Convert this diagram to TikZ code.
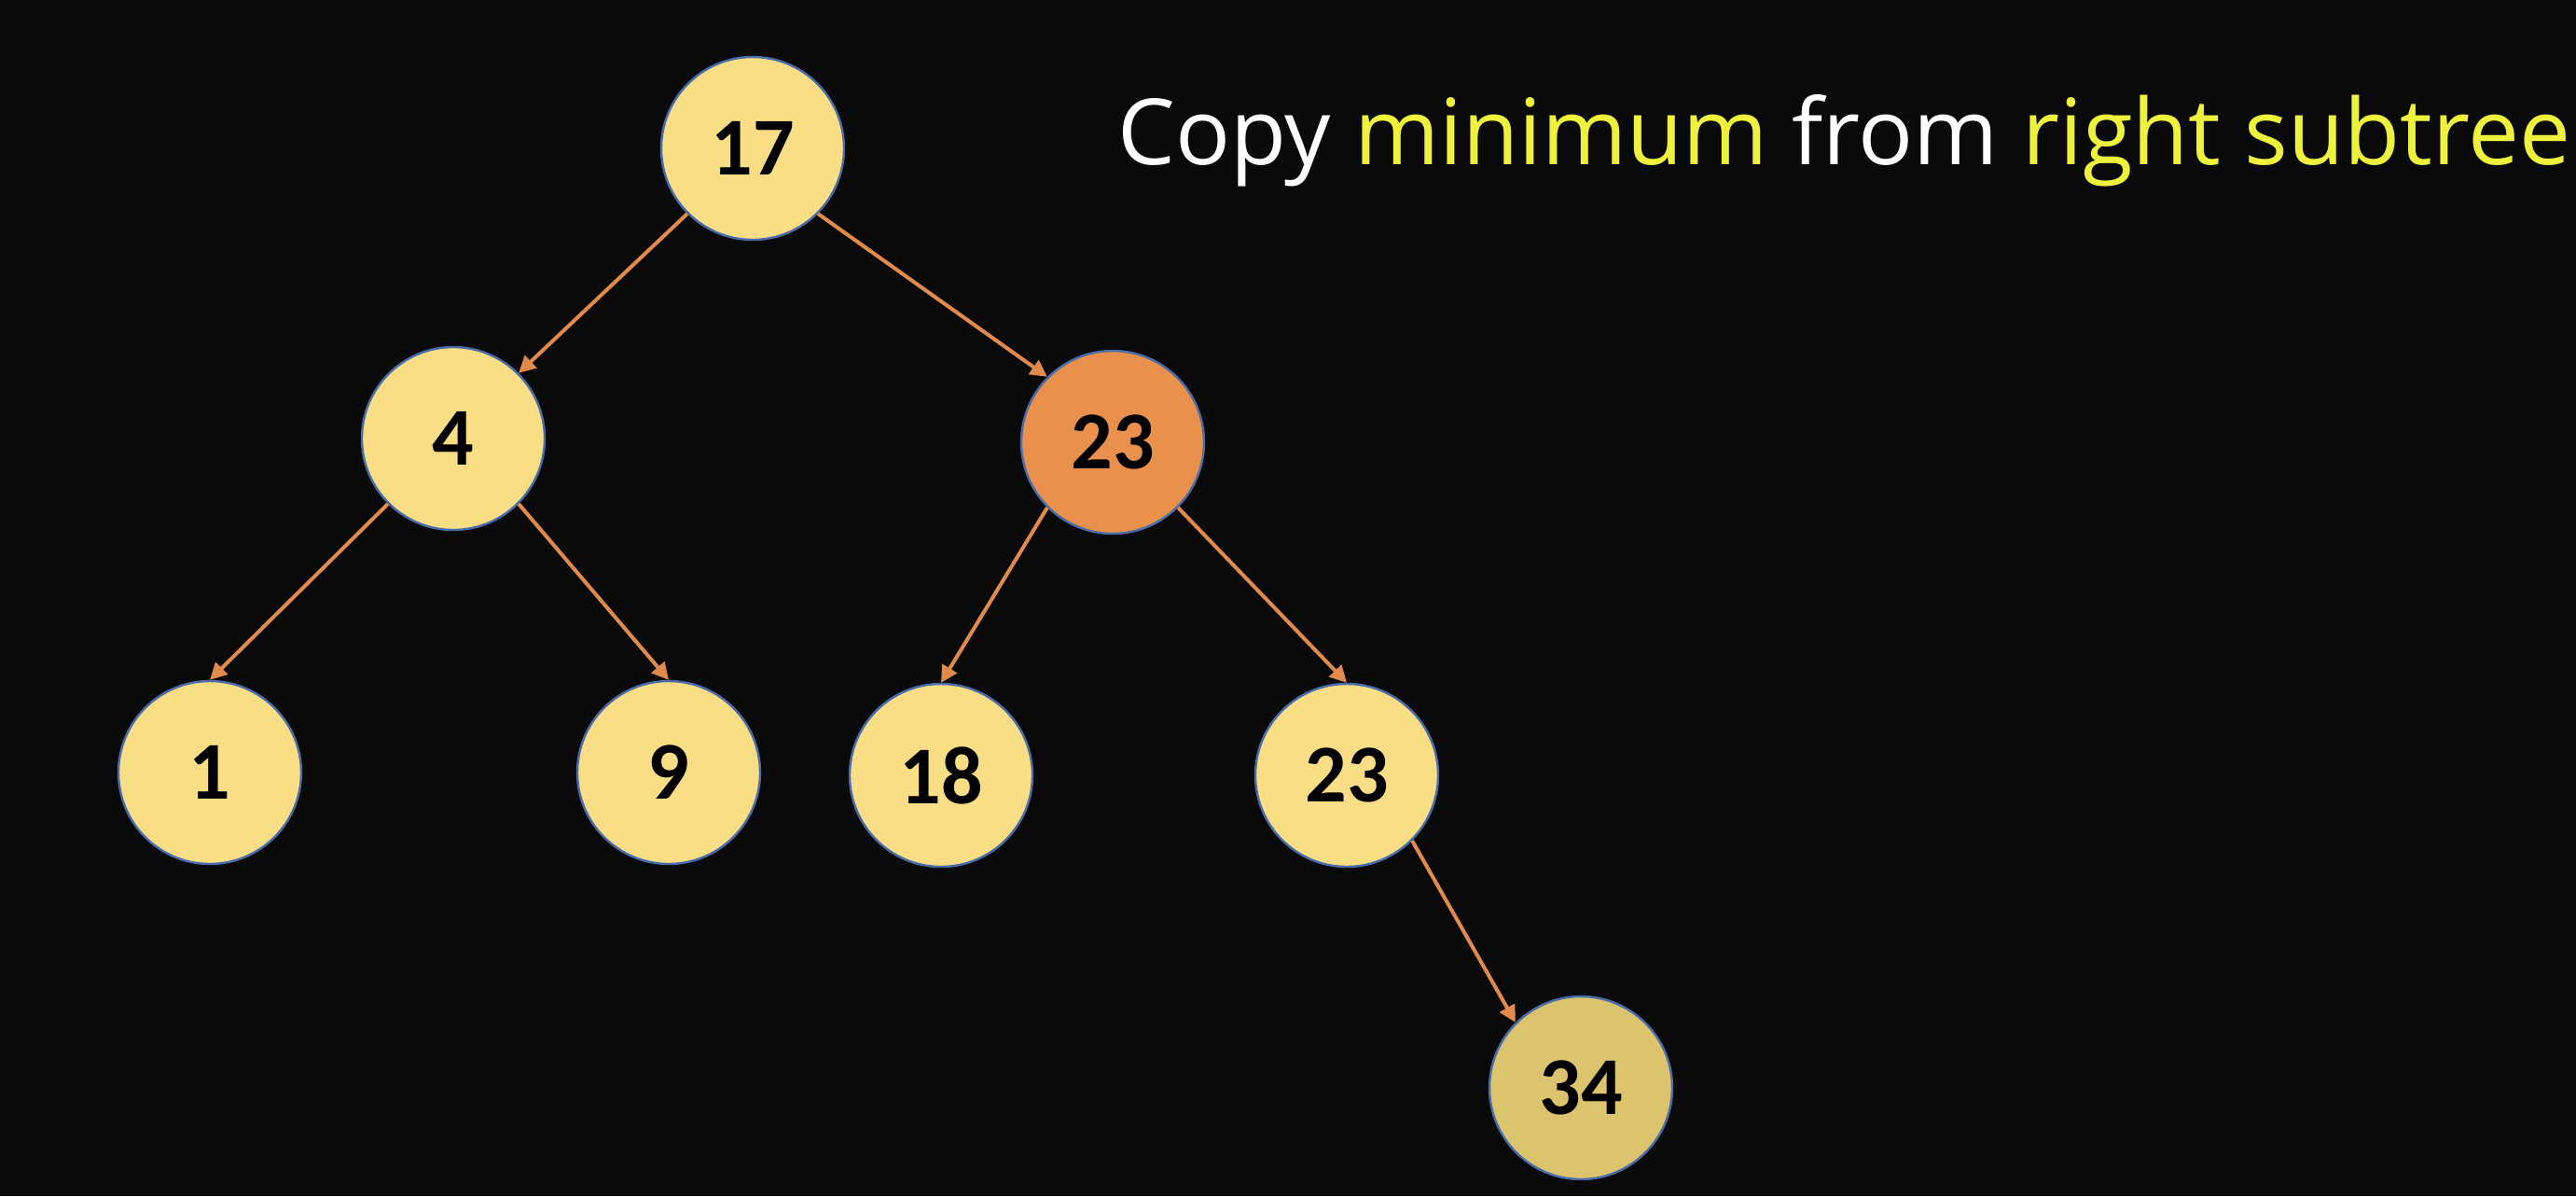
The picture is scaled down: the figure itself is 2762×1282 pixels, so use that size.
\documentclass[tikz,border=0pt]{standalone}
\usepackage{fontspec}
\setmainfont{Carlito}
\newfontfamily\titlefont{Open Sans}
\usetikzlibrary{arrows.meta}
\definecolor{bg}{HTML}{0A0A0A}
\definecolor{nodey}{HTML}{F9DE86}
\definecolor{nodeo}{HTML}{E8904C}
\definecolor{nodedk}{HTML}{DCC46E}
\definecolor{rim}{HTML}{4A6CA8}
\definecolor{edgec}{HTML}{E08A4C}
\definecolor{hl}{HTML}{EEF23C}
\tikzset{
  bnode/.style={circle, draw=rim, line width=1.2pt, fill=nodey, minimum size=98pt, inner sep=0pt, font=\fontsize{44}{44}\selectfont\bfseries, text=black},
  link/.style={draw=edgec, line width=2pt, -{Triangle[length=9pt,width=9pt]}}
}
\begin{document}
\begin{tikzpicture}[x=0.5pt,y=-0.5pt]
\fill[bg] (0,0) rectangle (2762,1282);
\useasboundingbox (0,0) rectangle (2762,1282);
\node[bnode] (n17) at (807,159) {17};
\node[bnode] (n4) at (486,470) {4};
\node[bnode, fill=nodeo] (n23a) at (1193,474) {23};
\node[bnode] (n1) at (225,828) {1};
\node[bnode] (n9) at (717,828) {9};
\node[bnode] (n18) at (1009,831) {18};
\node[bnode] (n23b) at (1444,831) {23};
\node[bnode, fill=nodedk] (n34) at (1695,1166) {34};
\draw[link] (n17.225) -- (n4.45);
\draw[link] (n17.315) -- (n23a.135);
\draw[link] (n4.225) -- (n1.90);
\draw[link] (n4.315) -- (n9.90);
\draw[link] (n23a.225) -- (n18.90);
\draw[link] (n23a.315) -- (n23b.90);
\draw[link] (n23b.315) -- (n34.135);
\node[anchor=base west, inner sep=0pt, font=\titlefont\fontsize{49}{49}\selectfont, text=white] (title) at (1198,176) {Copy \textcolor{hl}{minimum} from \textcolor{hl}{right subtree}};
\end{tikzpicture}
\end{document}
